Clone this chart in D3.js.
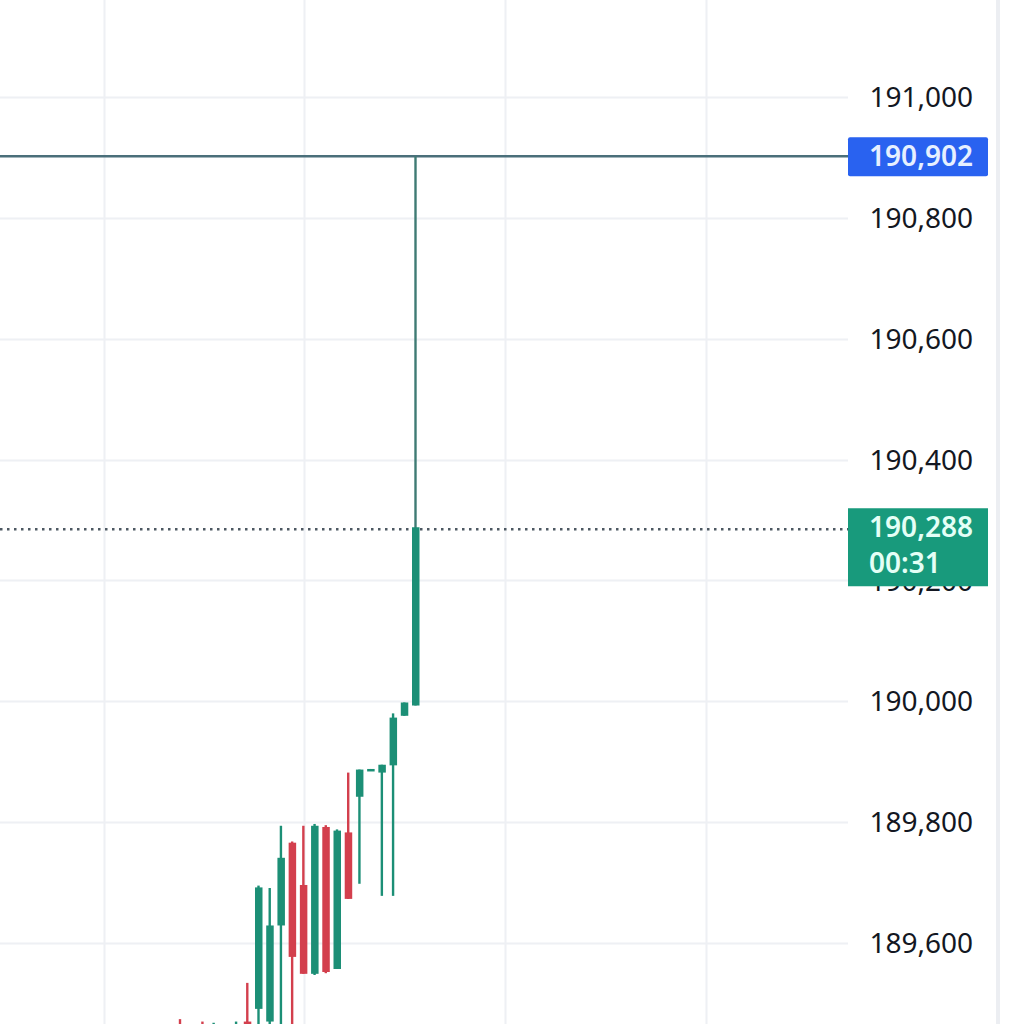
<!DOCTYPE html>
<html><head><meta charset="utf-8">
<script src="https://cdn.jsdelivr.net/npm/d3@7"></script>
<style>html,body{margin:0;padding:0;background:#fff;overflow:hidden}</style>
</head><body><svg id="c" width="1024" height="1024"></svg>
<script>
// candle data (index = minute bar)
const idx    = [0,1,2,3,4,5,6,7,8,9,10,11,12,13,14,15,16,17,18,19,20,21];
const opens  = [189440,189430,189445,189440,189450,189445,189470,189491,189470,189629,189766,189696,189549,189792,189557,189783,189842,189887,189882,189894,189976,189993];
const highs  = [189474,189455,189470,189468,189466,189470,189534,189695,189691,189794,189768,189794,189797,189795,189788,189882,189887,189888,189895,189980,189998,190902];
const lows   = [189380,189390,189400,189395,189410,189400,189400,189420,189420,189450,189440,189549,189547,189550,189557,189673,189698,189887,189678,189678,189976,189993];
const closes = [189420,189440,189430,189450,189440,189455,189420,189692,189629,189741,189577,189549,189794,189552,189786,189673,189887,189888,189895,189973,189998,190288];
const yTicks = [189600,189800,190000,190200,190400,190600,190800,191000];
const yGrid  = [189400,189600,189800,190000,190200,190400,190600,190800,191000];
const xGrid  = [-6.8,11.1,29.0,46.9];
const highLine = 190902;
const lastPrice = 190288;
const countdown = "00:31";

const W=1024,H=1024, axisX=848;
const svg=d3.select("#c");
svg.append("rect").attr("width",W).attr("height",H).attr("fill","#fff");
const y=d3.scaleLinear().domain([191000,189600]).range([97,943]);
const x=d3.scaleLinear().domain([0,21]).range([180,415.5]);
const fmt=d3.format(",");

const grid=svg.append("g");
grid.selectAll("line.h").data(yGrid).join("line")
  .attr("x1",0).attr("x2",axisX).attr("y1",d=>Math.round(y(d))+0.5).attr("y2",d=>Math.round(y(d))+0.5)
  .attr("stroke","#eef0f4").attr("stroke-width",2);
grid.selectAll("line.v").data(xGrid).join("line")
  .attr("y1",0).attr("y2",H).attr("x1",d=>Math.round(x(d))+0.5).attr("x2",d=>Math.round(x(d))+0.5)
  .attr("stroke","#eef0f4").attr("stroke-width",2);
// right edge separator
svg.append("rect").attr("x",996).attr("y",0).attr("width",4).attr("height",H).attr("fill","#eceef2");

// high horizontal line
svg.append("line").attr("x1",0).attr("x2",axisX).attr("y1",y(highLine)).attr("y2",y(highLine))
  .attr("stroke","#4a6f7a").attr("stroke-width",2.4);
// last price dotted line
svg.append("line").attr("x1",0).attr("x2",axisX).attr("y1",y(lastPrice)+2).attr("y2",y(lastPrice)+2)
  .attr("stroke","#4d5862").attr("stroke-width",2.5).attr("stroke-dasharray","2.5,4.5");

const up="#1c8f76", dn="#d33f4d";
const candles=svg.append("g");
idx.forEach(i=>{
  const o=opens[i],c=closes[i],h=highs[i],l=lows[i];
  const col=c>=o?up:dn;
  const wick = i===21 ? "#3f7b74" : col;
  const cx=x(i);
  candles.append("line").attr("x1",cx).attr("x2",cx).attr("y1",y(h)).attr("y2",y(l))
    .attr("stroke",wick).attr("stroke-width",2.4);
  const top=y(Math.max(o,c)), bot=y(Math.min(o,c));
  candles.append("rect").attr("x",cx-3.5).attr("width",7.5).attr("y",top)
    .attr("height",Math.max(2.5,bot-top)).attr("fill",col);
});

// axis labels
const ax=svg.append("g");
ax.selectAll("text").data(yTicks).join("text")
  .attr("x",973).attr("y",d=>y(d)).attr("dy","0.36em").attr("text-anchor","end")
  .attr("font-family","Noto Sans, sans-serif").attr("font-size",28).attr("fill","#131722")
  .text(d=>fmt(d));

// high label
svg.append("rect").attr("x",848).attr("y",y(highLine)-19).attr("width",140).attr("height",39).attr("rx",2).attr("fill","#2962f0");
svg.append("text").attr("x",973).attr("y",y(highLine)).attr("dy","0.36em").attr("text-anchor","end")
  .attr("font-family","Noto Sans, sans-serif").attr("font-size",28).attr("font-weight",600).attr("fill","#e6f0ff").text(fmt(highLine));
// last price label
svg.append("rect").attr("x",848).attr("y",y(lastPrice)-19).attr("width",140).attr("height",78).attr("fill","#189a7c");
svg.append("text").attr("x",973).attr("y",y(lastPrice)).attr("dy","0.36em").attr("text-anchor","end")
  .attr("font-family","Noto Sans, sans-serif").attr("font-size",28).attr("font-weight",600).attr("fill","#e4fff6").text(fmt(lastPrice));
svg.append("text").attr("x",869).attr("y",y(lastPrice)+36).attr("dy","0.36em").attr("text-anchor","start")
  .attr("font-family","Noto Sans, sans-serif").attr("font-size",28).attr("font-weight",600).attr("fill","#e4fff6").text(countdown);
</script></body></html>
